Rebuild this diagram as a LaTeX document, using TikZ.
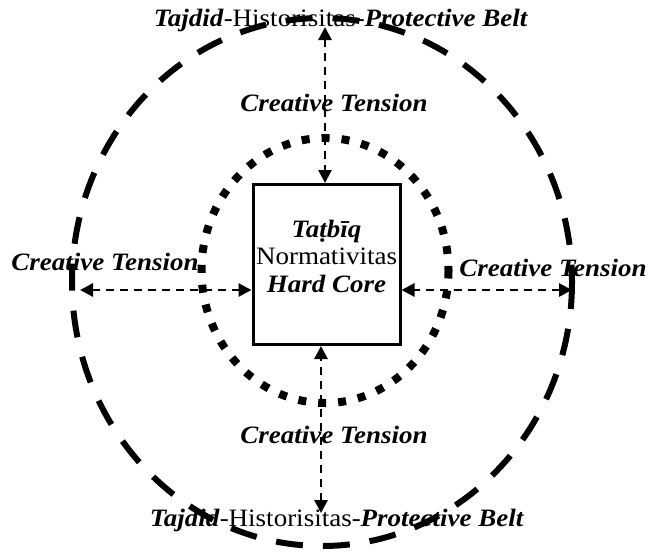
\documentclass[tikz,border=0pt]{standalone}
\usepackage{fontspec}
\setmainfont{Liberation Serif}[FakeStretch=1.08]
\usetikzlibrary{arrows.meta}
\begin{document}
\begin{tikzpicture}[x=1pt,y=-1pt,
  txt/.style={font=\fontsize{25}{27}\selectfont, inner sep=0pt, anchor=base},
  bi/.style={txt, font=\fontsize{25}{27}\selectfont\bfseries\itshape},
  beltline/.style={draw, line width=6pt, dash pattern=on 27pt off 20pt},
  ringline/.style={draw, line width=8pt, dash pattern=on 8pt off 12pt},
  corebox/.style={draw, line width=3pt, minimum width=147pt, minimum height=160pt, inner sep=0pt},
  ctarrow/.style={draw, line width=2.8pt, dash pattern=on 8pt off 6pt,
    {Triangle[length=13pt,width=13pt]}-{Triangle[length=13pt,width=13pt]}},
]
\useasboundingbox (0,0) rectangle (652,552);
% texts
\node[txt] (beltT) at (341,26) {\textbf{\textit{Tajdid}}-Historisitas-\textbf{\textit{Protective Belt}}};
\node[txt] (beltB) at (337,526) {\textbf{\textit{Tajdid}}-Historisitas-\textbf{\textit{Protective Belt}}};
\node[bi] (ctT) at (334,111) {Creative Tension};
\node[bi] (ctL) at (105,270) {Creative Tension};
\node[bi] (ctR) at (553,276) {Creative Tension};
\node[bi] (ctB) at (334,443) {Creative Tension};
% rings
\draw[beltline] (322,282) ellipse [x radius=250, y radius=264];
\draw[ringline] (325,270.5) ellipse [x radius=123.5, y radius=132.5];
% hard core
\node[corebox] (core) at (326.5,264.5) {};
\node[bi] (c1) at (326.5,237) {Ta\d{t}b\={\i}q};
\node[txt] (c2) at (326.5,264) {Normativitas};
\node[bi] (c3) at (326.5,292) {Hard Core};
% arrows
\coordinate (eT) at (325,27);
\coordinate (eL) at (80,290);
\coordinate (eR) at (572,290);
\coordinate (eB) at (321,513);
\draw[ctarrow] (eT) -- (eT |- core.north);
\draw[ctarrow] (eL) -- (eL -| core.west);
\draw[ctarrow] (eR) -- (eR -| core.east);
\draw[ctarrow] (eB) -- (eB |- core.south);
\end{tikzpicture}
\end{document}
